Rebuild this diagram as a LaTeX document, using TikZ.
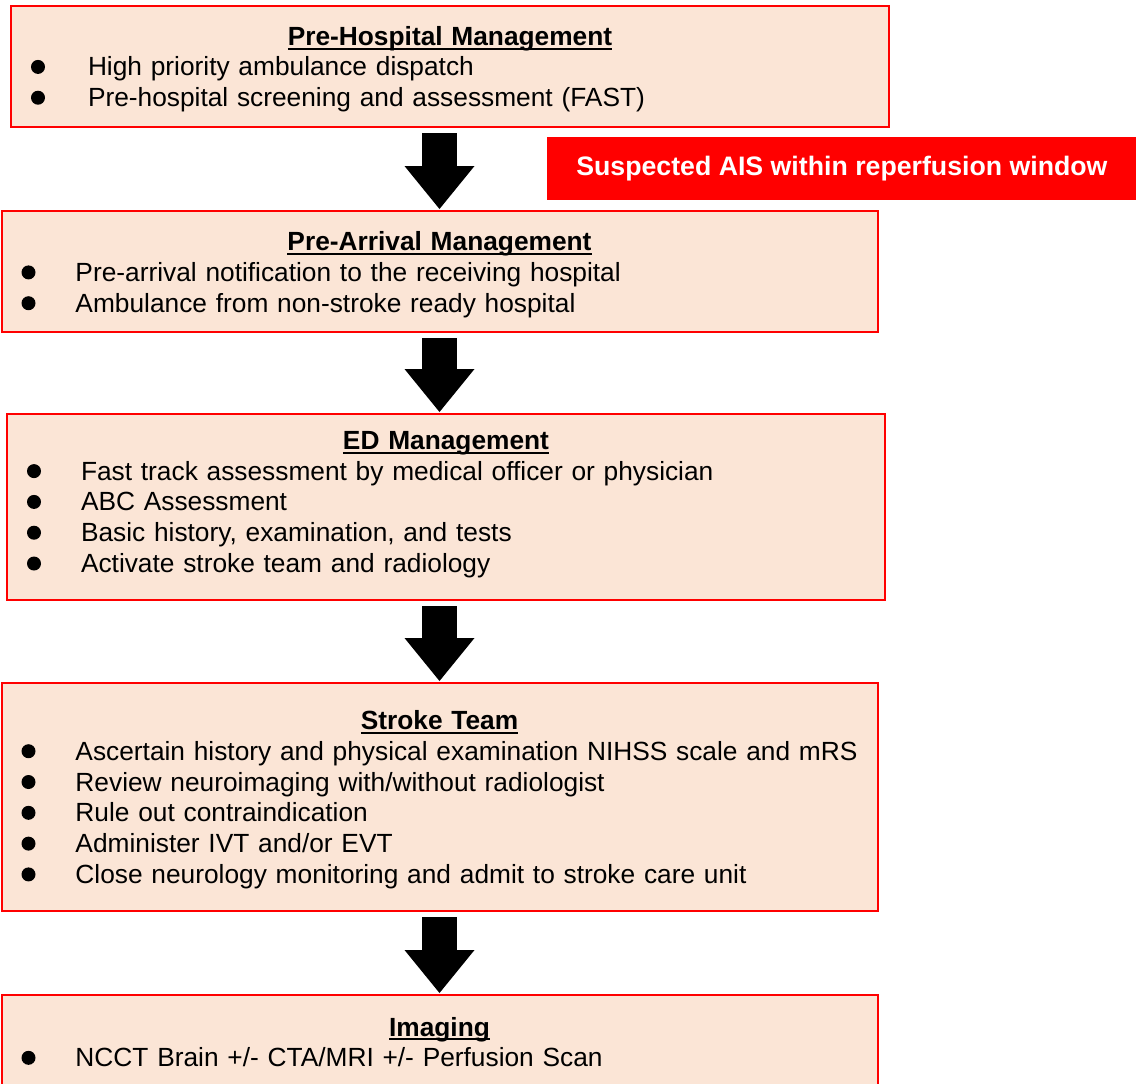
\documentclass[tikz,border=0pt]{standalone}
\usepackage{fontspec}
\setmainfont{Liberation Sans}
\usetikzlibrary{arrows.meta}
\definecolor{peach}{HTML}{FBE5D6}
\tikzset{>=latex}

% bullet, item line, underlined heading and extra depth below the last line
\newcommand{\blt}{\tikz[baseline=-4.5pt]\fill[black] (0,0) circle (3.5pt);}
\newcommand{\itm}[1]{\par\noindent\hspace*{10pt}\blt\hspace*{20pt}#1\strut}
\newcommand{\ttl}[1]{\par\noindent\hbox to \hsize{\hss\setbox0\hbox{\bfseries #1\strut}\rlap{\rule[-2.2pt]{\wd0}{1pt}}\box0\hss}}
\newcommand{\lift}[1]{\rule[-#1]{0pt}{#1}}

\begin{document}
\begin{tikzpicture}[x=0.5pt,y=-0.5pt,
	box/.style={draw=red, line width=1pt, fill=peach, anchor=north west, inner sep=0pt, align=left,
		font=\fontsize{13.15}{15.4}\selectfont},
	alert/.style={fill=red, text=white, anchor=north west, inner sep=0pt,
		font=\fontsize{13.35}{15.4}\selectfont\bfseries},
	blk/.style={line width=17.5pt, -{Triangle[length=21.5pt,width=35pt,line width=0pt]},
		shorten <=2.5pt, shorten >=0.5pt}]
	\useasboundingbox (0,0) rectangle (1141,1083);

	\node[box, text width=439pt, minimum height=60.5pt] (prehosp) at (10,5) {
		\ttl{Pre-Hospital Management}
		\itm{\hspace{1.5pt}High priority ambulance dispatch}
		\itm{\hspace{1.5pt}Pre-hospital screening and assessment (FAST)\lift{6pt}}};

	\node[alert, minimum width=294.5pt, minimum height=31.5pt] (ais) at (547,137)
		{Suspected AIS within reperfusion window};

	\node[box, text width=438pt, minimum height=60.5pt] (prearr) at (0.5,210) {
		\ttl{Pre-Arrival Management}
		\itm{Pre-arrival notification to the receiving hospital}
		\itm{Ambulance from non-stroke ready hospital\lift{5.5pt}}};

	\node[box, text width=439pt, minimum height=93pt] (edm) at (6,413) {
		\ttl{ED Management}
		\itm{Fast track assessment by medical officer or physician}
		\itm{ABC Assessment}
		\itm{Basic history, examination, and tests}
		\itm{Activate stroke team and radiology\lift{11.5pt}}};

	\node[box, text width=438pt, minimum height=114pt] (team) at (0.5,682) {
		\ttl{Stroke Team}
		\itm{Ascertain history and physical examination NIHSS scale and mRS}
		\itm{Review neuroimaging with/without radiologist}
		\itm{Rule out contraindication}
		\itm{Administer IVT and/or EVT}
		\itm{Close neurology monitoring and admit to stroke care unit\lift{6pt}}};

	\node[box, text width=438pt, minimum height=48pt] (img) at (0.5,994) {
		\ttl{Imaging}
		\itm{NCCT Brain +/- CTA/MRI +/- Perfusion Scan\lift{7pt}}};

	% block arrows between the stages
	\foreach \a/\b in {prehosp/prearr, prearr/edm, edm/team, team/img}
		\draw[blk] (\a.south -| img.north) -- (\b.north -| img.north);
\end{tikzpicture}
\end{document}
